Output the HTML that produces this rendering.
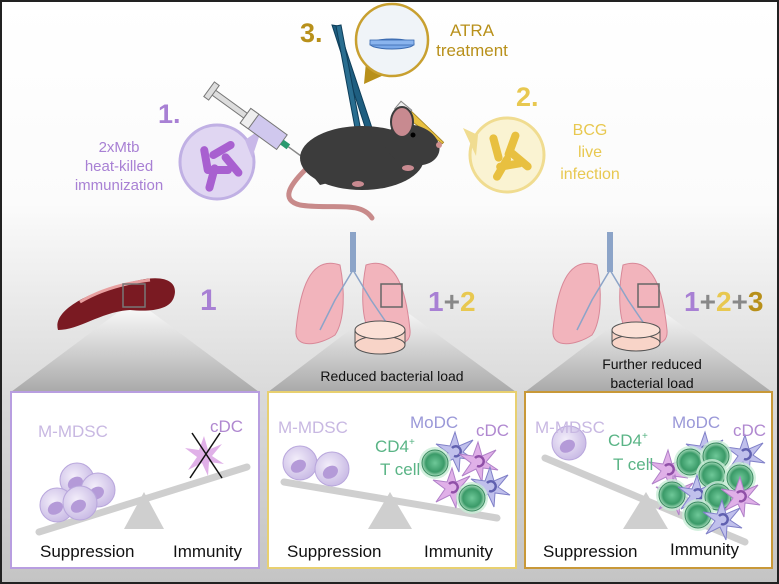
<!DOCTYPE html>
<html><head><meta charset="utf-8"><style>
html,body{margin:0;padding:0;background:#fff}
svg{display:block}
text{font-family:"Liberation Sans",sans-serif}
</style></head><body>
<svg width="779" height="584" viewBox="0 0 779 584" xmlns="http://www.w3.org/2000/svg">
<defs>
<linearGradient id="bg" x1="0" y1="0" x2="0" y2="1">
<stop offset="0" stop-color="#ffffff"/><stop offset="0.35" stop-color="#fbfbfb"/><stop offset="0.68" stop-color="#d9d9d9"/><stop offset="1" stop-color="#c4c4c4"/></linearGradient>
<linearGradient id="tri" x1="0" y1="0" x2="0" y2="1">
<stop offset="0" stop-color="#fafafa"/><stop offset="1" stop-color="#a9a9a9"/></linearGradient>
<radialGradient id="mdsc" cx="0.4" cy="0.4" r="0.6"><stop offset="0" stop-color="#f3eefa"/><stop offset="1" stop-color="#cbbde6"/></radialGradient>
<radialGradient id="tc" cx="0.5" cy="0.5" r="0.5"><stop offset="0" stop-color="#6ec898"/><stop offset="0.7" stop-color="#3a9a68"/><stop offset="1" stop-color="#a8dcbc"/></radialGradient>
<g id="m"><circle r="17" fill="url(#mdsc)" stroke="#b8a6dc" stroke-width="1"/><ellipse cx="-3" cy="2" rx="8" ry="6" fill="#b49ad8" transform="rotate(-30)"/></g>
<g id="t"><circle r="16" fill="#c8ecd6" opacity="0.8"/><circle r="13" fill="url(#tc)" stroke="#3a8a60" stroke-width="1"/></g>
<g id="sp"><polygon points="0,-20 4,-6 18,-12 8,0 20,8 5,6 4,20 -2,7 -16,14 -7,1 -19,-8 -5,-6" fill="#e0b0e8" stroke="#b080c8" stroke-width="1"/><path d="M-3,-4 a5,5 0 1 1 2,8" fill="none" stroke="#9050a8" stroke-width="2.5"/></g>
<g id="sb"><polygon points="0,-20 4,-6 18,-12 8,0 20,8 5,6 4,20 -2,7 -16,14 -7,1 -19,-8 -5,-6" fill="#c0c0ec" stroke="#8080c8" stroke-width="1"/><path d="M-3,-4 a5,5 0 1 1 2,8" fill="none" stroke="#6060b0" stroke-width="2.5"/></g>
<g id="rodY"><rect x="-4" y="-14" width="8" height="28" rx="4" fill="#e8c040"/></g>
<g id="rodP"><rect x="-4" y="-14" width="8" height="28" rx="4" fill="#a860d0"/></g>
</defs>
<rect x="0" y="0" width="779" height="584" fill="url(#bg)"/>
<rect x="1" y="1" width="777" height="582" fill="none" stroke="#222" stroke-width="2"/>

<!-- top: bubble 3 -->
<path d="M366,62 L364,84 L386,74 Z" fill="#b8901a"/>
<circle cx="392" cy="40" r="36" fill="#f0f4f8" stroke="#c8a030" stroke-width="2.5"/>
<ellipse cx="392" cy="44" rx="22" ry="5" fill="#7aa8e8" stroke="#3a6ab0"/>
<rect x="370" y="40" width="44" height="5" fill="#8ab4ee" stroke="#3a6ab0" stroke-width="0.8"/>
<text x="300" y="42" font-size="27" font-weight="bold" fill="#b8901a">3.</text>
<text x="472" y="36" font-size="17" fill="#b8901a" text-anchor="middle">ATRA</text>
<text x="472" y="56" font-size="17" fill="#b8901a" text-anchor="middle">treatment</text>
<!-- forceps -->
<polygon points="332,25 338,26 372,128 366,130" fill="#1e5e80" stroke="#0e3e5a"/>
<polygon points="336,26 341,25 360,126 355,128" fill="#2a6e90" stroke="#0e3e5a"/>

<!-- purple bubble -->
<circle cx="217" cy="162" r="37" fill="#e0d6f2" stroke="#c0b0e4" stroke-width="3"/>
<path d="M245,140 L262,128 L252,158 Z" fill="#c8b8e8"/>
<use href="#rodP" transform="translate(206,160) rotate(-10)"/>
<use href="#rodP" transform="translate(222,150) rotate(60)"/>
<use href="#rodP" transform="translate(218,170) rotate(90)"/>
<use href="#rodP" transform="translate(212,178) rotate(15)"/>
<use href="#rodP" transform="translate(232,165) rotate(-40)"/>
<text x="158" y="123" font-size="27" font-weight="bold" fill="#a880d4">1.</text>
<text x="119" y="152" font-size="15" fill="#a880d4" text-anchor="middle">2xMtb</text>
<text x="119" y="171" font-size="15" fill="#a880d4" text-anchor="middle">heat-killed</text>
<text x="119" y="190" font-size="15" fill="#a880d4" text-anchor="middle">immunization</text>
<!-- syringe -->
<g transform="translate(290,148) rotate(36)">
<rect x="-95" y="-3" width="40" height="6" fill="#ddd" stroke="#777"/>
<rect x="-100" y="-9" width="6" height="18" fill="#ddd" stroke="#777"/>
<rect x="-55" y="-9" width="45" height="18" fill="#d0c8ee" stroke="#777"/>
<rect x="-55" y="-9" width="10" height="18" fill="#eee" stroke="#777"/>
<rect x="-10" y="-3" width="8" height="6" fill="#2a9a70"/>
<line x1="-2" y1="0" x2="14" y2="0" stroke="#888" stroke-width="1.5"/>
</g>

<!-- yellow bubble -->
<circle cx="507" cy="155" r="37" fill="#faf3d2" stroke="#f0dc90" stroke-width="3"/>
<path d="M478,135 L463,128 L476,156 Z" fill="#f0dc90"/>
<use href="#rodY" transform="translate(496,148) rotate(-15)"/>
<use href="#rodY" transform="translate(512,145) rotate(20)"/>
<use href="#rodY" transform="translate(510,165) rotate(80)"/>
<use href="#rodY" transform="translate(502,168) rotate(30)"/>
<use href="#rodY" transform="translate(520,160) rotate(-50)"/>
<text x="516" y="106" font-size="27" font-weight="bold" fill="#e8c850">2.</text>
<text x="590" y="135" font-size="16" fill="#e8c850" text-anchor="middle">BCG</text>
<text x="590" y="157" font-size="16" fill="#e8c850" text-anchor="middle">live</text>
<text x="590" y="179" font-size="16" fill="#e8c850" text-anchor="middle">infection</text>
<!-- pipette -->
<g transform="translate(443,143) rotate(-140)">
<polygon points="0,-1 0,1 45,4 45,-4" fill="#e8c040" stroke="#a08020" stroke-width="0.8"/>
<rect x="45" y="-5" width="14" height="10" fill="#eee" stroke="#888"/>
</g>

<!-- mouse -->
<path d="M305,170 C290,185 280,200 300,205 C330,210 360,200 372,218" fill="none" stroke="#c88a8a" stroke-width="5" stroke-linecap="round"/>
<ellipse cx="362" cy="158" rx="62" ry="32" fill="#3c3c3c"/>
<ellipse cx="412" cy="145" rx="28" ry="20" fill="#3c3c3c" transform="rotate(15 412 145)"/>
<polygon points="300,160 320,185 340,180" fill="#3c3c3c"/>
<ellipse cx="402" cy="122" rx="11" ry="15" fill="#c88a90" stroke="#3c3c3c" stroke-width="2"/>
<circle cx="413" cy="135" r="2.5" fill="#000"/>
<circle cx="439" cy="145" r="3" fill="#d09090"/>
<ellipse cx="408" cy="168" rx="6" ry="3" fill="#c88a90"/>
<ellipse cx="358" cy="184" rx="6" ry="3" fill="#c88a90"/>

<!-- triangles -->
<polygon points="125,307 145,307 259,392 11,392" fill="url(#tri)"/>
<polygon points="380,307 400,307 516,392 268,392" fill="url(#tri)"/>
<polygon points="637,307 657,307 772,392 525,392" fill="url(#tri)"/>

<!-- spleen -->
<path d="M58,330 C52,310 90,290 140,280 C170,274 178,285 174,297 C170,310 150,312 130,310 C100,312 80,330 58,330 Z" fill="#7a1a22"/>
<path d="M80,302 C100,290 125,283 150,280" stroke="#e8a0a0" stroke-width="3" fill="none"/>
<rect x="123" y="284" width="22" height="23" fill="none" stroke="#777" stroke-width="1.5"/>
<text x="200" y="310" font-size="30" font-weight="bold" fill="#a880d4">1</text>

<!-- lungs -->
<g id="lung">
<path d="M340,265 C310,255 300,290 296,330 C294,350 320,345 335,335 C345,320 345,290 340,265 Z" fill="#f2b4bc" stroke="#d88898"/>
<path d="M366,265 C396,255 406,290 410,330 C412,350 386,345 371,335 C361,320 361,290 366,265 Z" fill="#f2b4bc" stroke="#d88898"/>
<rect x="350" y="232" width="6" height="40" fill="#8ca4c8"/>
<path d="M353,270 L335,300 M353,270 L371,300 M335,300 L320,330 M371,300 L388,325" stroke="#8ca4c8" stroke-width="1.5" fill="none"/>
</g>
<use href="#lung" transform="translate(257,0)"/>
<rect x="381" y="284" width="21" height="23" fill="none" stroke="#666" stroke-width="1.5"/>
<rect x="638" y="284" width="21" height="23" fill="none" stroke="#666" stroke-width="1.5"/>
<text x="428" y="311" font-size="28" font-weight="bold" fill="#a880d4">1<tspan fill="#888">+</tspan><tspan fill="#e8c850">2</tspan></text>
<text x="684" y="311" font-size="28" font-weight="bold" fill="#a880d4">1<tspan fill="#888">+</tspan><tspan fill="#e8c850">2</tspan><tspan fill="#888">+</tspan><tspan fill="#b8901a">3</tspan></text>
<!-- dishes -->
<g><rect x="355" y="330" width="50" height="15" fill="#f8d4c8" stroke="#555"/><ellipse cx="380" cy="345" rx="25" ry="9" fill="#f8d4c8" stroke="#555"/><ellipse cx="380" cy="330" rx="25" ry="9" fill="#fbe0d6" stroke="#555"/></g>
<g><rect x="612" y="330" width="48" height="13" fill="#f8d4c8" stroke="#555"/><ellipse cx="636" cy="343" rx="24" ry="8" fill="#f8d4c8" stroke="#555"/><ellipse cx="636" cy="330" rx="24" ry="8" fill="#fbe0d6" stroke="#555"/></g>
<text x="392" y="381" font-size="14" fill="#111" text-anchor="middle">Reduced bacterial load</text>
<text x="652" y="369" font-size="14" fill="#111" text-anchor="middle">Further reduced</text>
<text x="652" y="388" font-size="14" fill="#111" text-anchor="middle">bacterial load</text>

<!-- boxes -->
<rect x="11" y="392" width="248" height="176" fill="#fff" stroke="#b89ee0" stroke-width="2"/>
<rect x="268" y="392" width="248" height="176" fill="#fff" stroke="#e8d070" stroke-width="2"/>
<rect x="525" y="392" width="247" height="176" fill="#fff" stroke="#c89838" stroke-width="2"/>

<!-- box1 -->
<line x1="39" y1="532" x2="247" y2="467" stroke="#cfcfcf" stroke-width="7" stroke-linecap="round"/>
<polygon points="144,492 124,529 164,529" fill="#cfcfcf"/>
<use href="#m" transform="translate(77,480)"/>
<use href="#m" transform="translate(98,490)"/>
<use href="#m" transform="translate(57,505)"/>
<use href="#m" transform="translate(80,503)"/>
<g transform="translate(204,456)"><polygon points="0,-20 4,-6 18,-12 8,0 20,8 5,6 4,20 -2,7 -16,14 -7,1 -19,-8 -5,-6" fill="#e0b0e8"/></g>
<line x1="192" y1="433" x2="222" y2="478" stroke="#111" stroke-width="1.5"/>
<line x1="220" y1="433" x2="190" y2="478" stroke="#111" stroke-width="1.5"/>
<text x="38" y="437" font-size="17" fill="#c8b8e2">M-MDSC</text>
<text x="210" y="432" font-size="17" fill="#b088d0">cDC</text>
<text x="40" y="557" font-size="17" fill="#111">Suppression</text>
<text x="173" y="557" font-size="17" fill="#111">Immunity</text>

<!-- box2 -->
<line x1="284" y1="482" x2="497" y2="518" stroke="#cfcfcf" stroke-width="7" stroke-linecap="round"/>
<polygon points="390,492 368,529 412,529" fill="#cfcfcf"/>
<use href="#m" transform="translate(300,463)"/>
<use href="#m" transform="translate(332,469)"/>
<use href="#sb" transform="translate(455,452)"/>
<use href="#sp" transform="translate(478,462)"/>
<use href="#t" transform="translate(435,463)"/>
<use href="#sp" transform="translate(452,488)"/>
<use href="#sb" transform="translate(490,487)"/>
<use href="#t" transform="translate(472,498)"/>
<text x="278" y="433" font-size="17" fill="#c8b8e2">M-MDSC</text>
<text x="410" y="428" font-size="17" fill="#9a98d8">MoDC</text>
<text x="476" y="436" font-size="17" fill="#b088d0">cDC</text>
<text x="375" y="452" font-size="17" fill="#5ab486">CD4<tspan font-size="10" dy="-7">+</tspan></text>
<text x="380" y="475" font-size="17" fill="#5ab486">T cell</text>
<text x="287" y="557" font-size="17" fill="#111">Suppression</text>
<text x="424" y="557" font-size="17" fill="#111">Immunity</text>

<!-- box3 -->
<line x1="545" y1="458" x2="745" y2="542" stroke="#cfcfcf" stroke-width="7" stroke-linecap="round"/>
<polygon points="646,492 623,529 668,529" fill="#cfcfcf"/>
<use href="#m" transform="translate(569,443)"/>
<use href="#sp" transform="translate(668,470)"/>
<use href="#sb" transform="translate(705,452)"/>
<use href="#sb" transform="translate(745,455)"/>
<use href="#t" transform="translate(690,462)"/>
<use href="#t" transform="translate(716,456)"/>
<use href="#t" transform="translate(712,475)"/>
<use href="#t" transform="translate(740,478)"/>
<use href="#sp" transform="translate(675,495)"/>
<use href="#t" transform="translate(672,495)"/>
<use href="#sb" transform="translate(697,495)"/>
<use href="#t" transform="translate(718,497)"/>
<use href="#sp" transform="translate(740,497)"/>
<use href="#t" transform="translate(698,515)"/>
<use href="#sb" transform="translate(722,520)"/>
<text x="535" y="433" font-size="17" fill="#c8b8e2">M-MDSC</text>
<text x="672" y="428" font-size="17" fill="#9a98d8">MoDC</text>
<text x="733" y="436" font-size="17" fill="#b088d0">cDC</text>
<text x="608" y="446" font-size="17" fill="#5ab486">CD4<tspan font-size="10" dy="-7">+</tspan></text>
<text x="613" y="470" font-size="17" fill="#5ab486">T cell</text>
<text x="543" y="557" font-size="17" fill="#111">Suppression</text>
<text x="670" y="555" font-size="17" fill="#111">Immunity</text>
</svg>
</body></html>
